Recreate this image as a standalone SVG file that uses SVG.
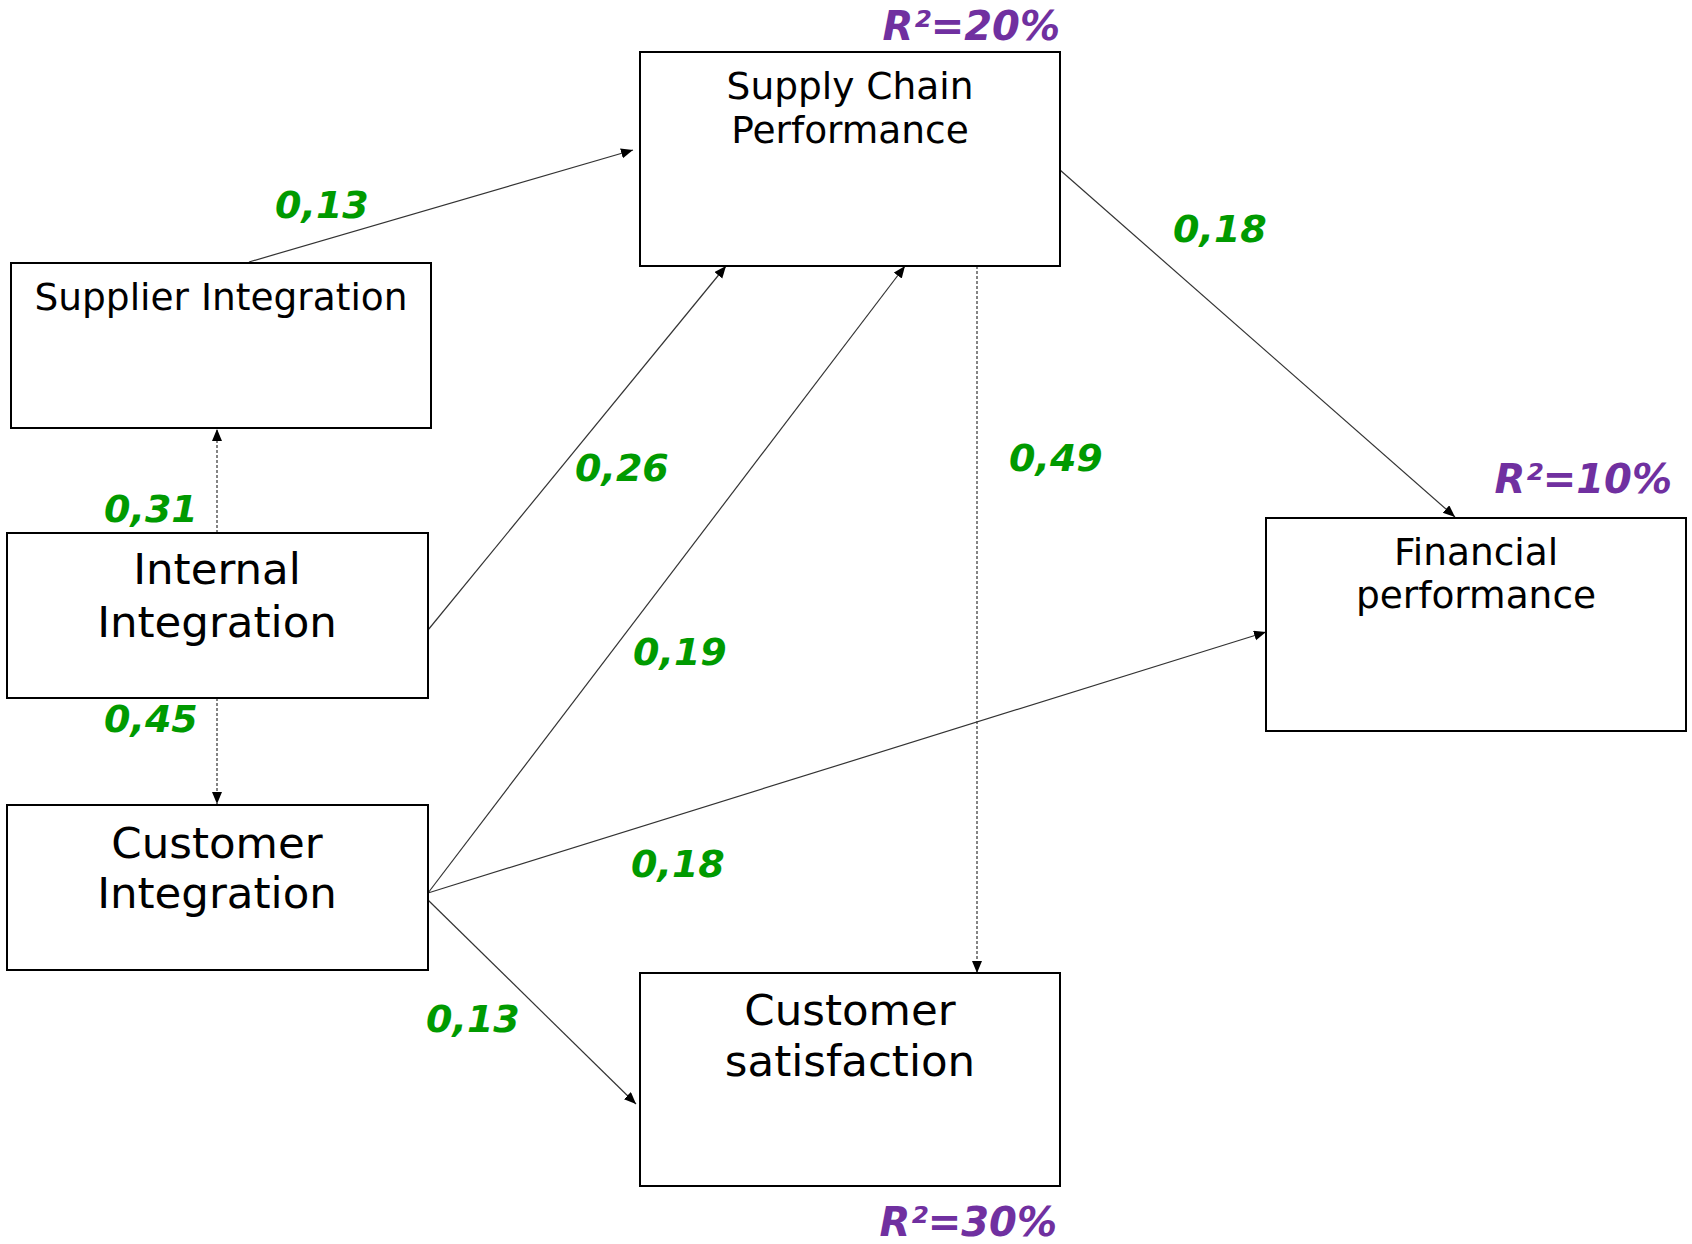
<svg xmlns="http://www.w3.org/2000/svg" width="1692" height="1244" viewBox="0 0 1692 1244">
<style>
.box{fill:#fff;stroke:#000;stroke-width:2}
.lbl{font-family:"DejaVu Sans","Verdana",sans-serif;fill:#000;text-anchor:middle}
.m{font-size:37.5px}
.l{font-size:43.5px}
.coef{font-family:"DejaVu Sans","Verdana",sans-serif;font-size:38px;font-weight:bold;font-style:italic;fill:#009A00}
.r2{font-family:"DejaVu Sans","Verdana",sans-serif;font-size:40px;font-weight:bold;font-style:italic;fill:#7030A0;text-anchor:end}
.c{stroke:#333;stroke-width:1.2;fill:none;marker-end:url(#ah)}
.d{stroke:#333;stroke-width:1.2;fill:none;stroke-dasharray:3 2;marker-end:url(#ah)}
</style>
<defs>
<marker id="ah" markerUnits="userSpaceOnUse" markerWidth="13" markerHeight="11" refX="12" refY="5" orient="auto">
<path d="M0,0 L12,5 L0,10 z" fill="#000"/>
</marker>
</defs>
<rect width="1692" height="1244" fill="#fff"/>
<g id="connectors">
<line class="c" x1="249" y1="262" x2="633" y2="150"/>
<line class="c" x1="428" y1="630" x2="726" y2="266"/>
<line class="c" x1="428" y1="893" x2="905" y2="266"/>
<line class="c" x1="428" y1="893" x2="1266" y2="632"/>
<line class="c" x1="428" y1="900" x2="636" y2="1104"/>
<line class="c" x1="1060" y1="170" x2="1455" y2="517"/>
<line class="d" x1="217" y1="533" x2="217" y2="429"/>
<line class="d" x1="217" y1="698" x2="217" y2="804"/>
<line class="d" x1="977" y1="266" x2="977" y2="973"/>
</g>
<g id="supply-chain-performance">
<rect class="box" x="640" y="52" width="420" height="214"/>
<text class="lbl m" x="850" y="99">Supply Chain</text>
<text class="lbl m" x="850" y="143">Performance</text>
</g>
<g id="supplier-integration">
<rect class="box" x="11" y="263" width="420" height="165"/>
<text class="lbl m" x="221" y="310">Supplier Integration</text>
</g>
<g id="internal-integration">
<rect class="box" x="7" y="533" width="421" height="165"/>
<text class="lbl l" x="217" y="584">Internal</text>
<text class="lbl l" x="217" y="637">Integration</text>
</g>
<g id="customer-integration">
<rect class="box" x="7" y="805" width="421" height="165"/>
<text class="lbl l" x="217" y="858">Customer</text>
<text class="lbl l" x="217" y="908">Integration</text>
</g>
<g id="financial-performance">
<rect class="box" x="1266" y="518" width="420" height="213"/>
<text class="lbl m" x="1476" y="565">Financial</text>
<text class="lbl m" x="1476" y="608">performance</text>
</g>
<g id="customer-satisfaction">
<rect class="box" x="640" y="973" width="420" height="213"/>
<text class="lbl l" x="850" y="1025">Customer</text>
<text class="lbl l" x="850" y="1076">satisfaction</text>
</g>
<g id="labels">
<text class="coef" x="275" y="218">0,13</text>
<text class="coef" x="1173" y="242">0,18</text>
<text class="coef" x="575" y="481">0,26</text>
<text class="coef" x="1009" y="471">0,49</text>
<text class="coef" x="104" y="522">0,31</text>
<text class="coef" x="104" y="732">0,45</text>
<text class="coef" x="633" y="665">0,19</text>
<text class="coef" x="631" y="877">0,18</text>
<text class="coef" x="426" y="1032">0,13</text>
<text class="r2" x="1060" y="40">R²=20%</text>
<text class="r2" x="1672" y="493">R²=10%</text>
<text class="r2" x="1057" y="1236">R²=30%</text>
</g>
</svg>
